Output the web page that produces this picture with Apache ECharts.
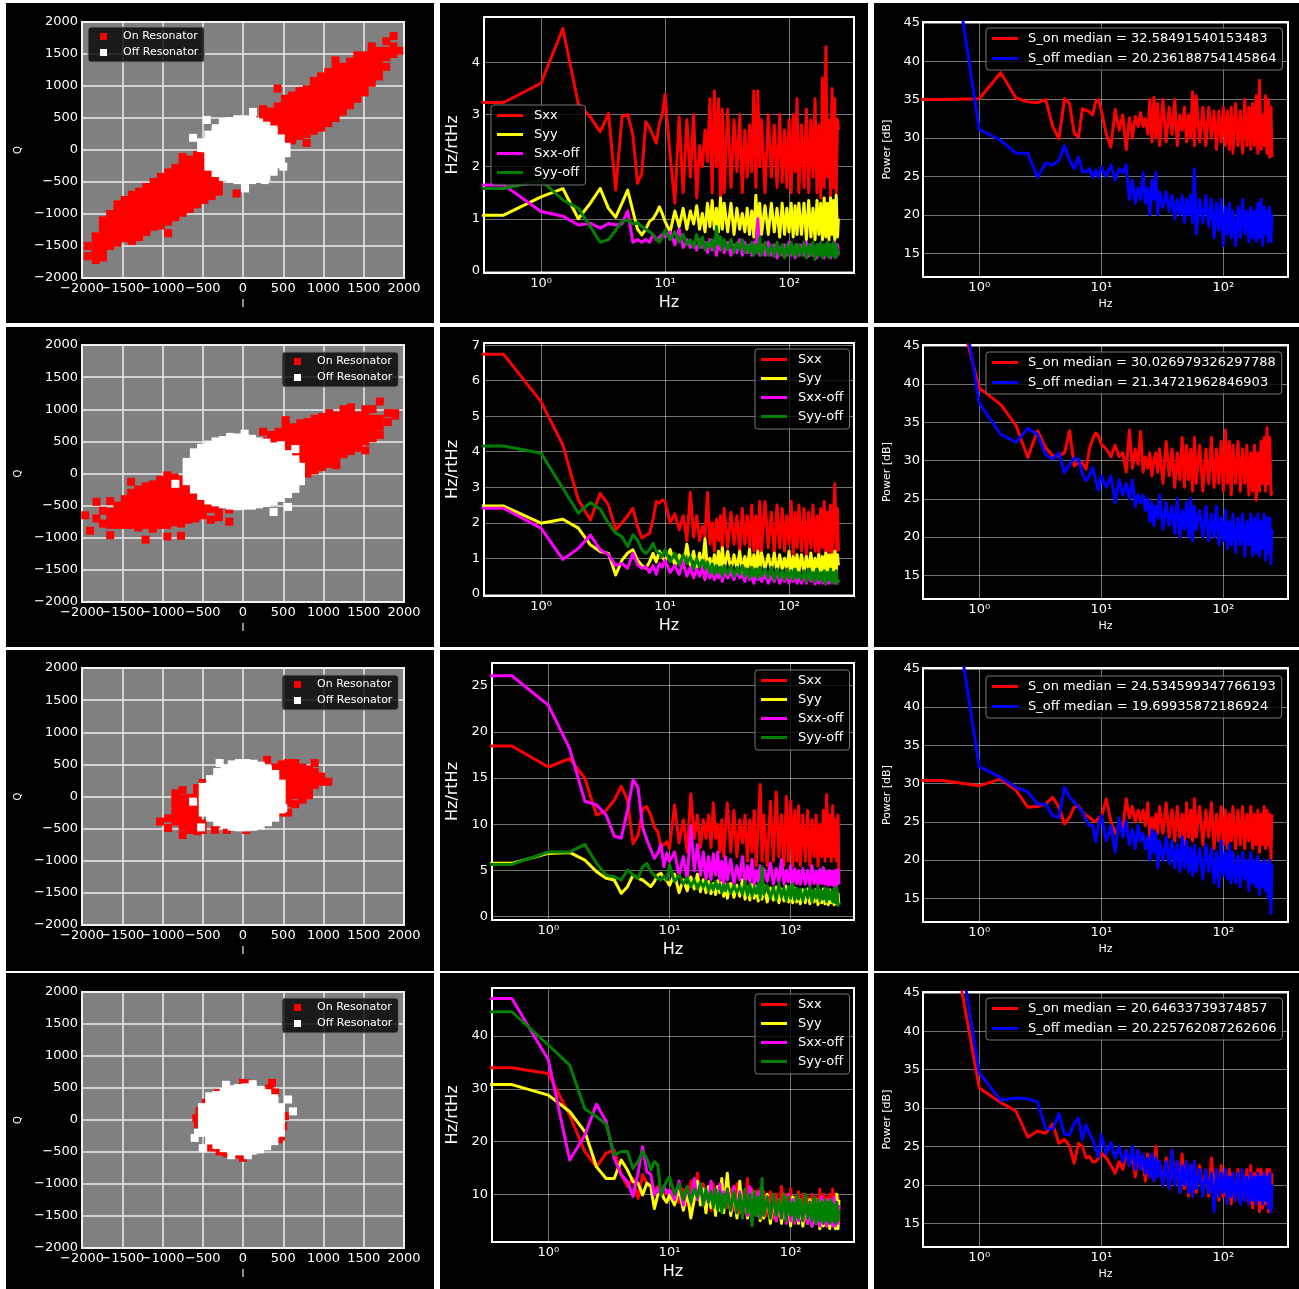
<!DOCTYPE html>
<html><head><meta charset="utf-8">
<script src="https://cdn.jsdelivr.net/npm/echarts@6/dist/echarts.min.js"></script>
<style>
html,body{margin:0;padding:0;background:#fff;}
body{width:1299px;height:1289px;position:relative;overflow:hidden;}
</style>
</head><body>
<script>
// ---------- frequency axis (Hz) shared by all spectra ----------
const F = [0.5,1,1.5,2,2.5,3,3.5,4,4.5,5,5.5,6,6.5,7,7.5,8,8.5,9,9.5,10,
 11,12,13,14,15,16,17,18,19,20,21,22,23,24,25,26,27,28,29,30,
 32,34,36,38,40,42,44,46,48,50,52,54,56,58,60,
 64,68,72,76,80,84,88,92,96,100,104,108,112,116,120,
 126,132,138,144,150,156,162,168,174,180,186,192,198,204,210,216,222,228,234,240,246,250];

// ---------- row 1 spectra ----------
const s1xx = [3.23,3.6,4.65,3.2,2.95,2.67,3.02,1.55,2.96,3.0,2.62,1.68,1.87,2.86,2.75,2.6,2.45,2.83,3.0,3.39,
 2.2,1.3,2.95,1.5,2.9,1.8,3.0,1.4,2.4,2.0,2.7,2.1,3.3,1.5,3.45,2.0,3.3,1.4,3.1,1.5,
 3.1,1.6,2.9,1.9,3.0,1.5,2.7,1.8,2.8,1.9,3.45,1.6,3.45,2.0,2.9,
 1.5,3.0,1.8,2.8,1.6,3.0,1.7,2.7,1.6,2.9,1.5,3.0,1.9,3.3,1.5,
 2.8,1.6,3.1,1.5,2.9,1.8,3.3,1.5,2.8,1.4,3.7,1.6,4.3,1.8,2.9,1.4,3.5,1.6,3.3,1.5,2.9,2.7];
const s1yy = [1.07,1.42,1.58,1.0,1.3,1.58,1.2,1.03,1.3,1.55,1.15,0.8,0.69,0.8,0.95,1.0,1.1,1.23,1.1,0.95,
 0.75,1.15,0.85,1.2,0.8,1.15,0.9,1.25,0.8,1.1,0.75,1.3,0.85,1.35,0.8,1.2,0.75,1.4,0.8,1.3,
 0.75,1.3,0.7,1.2,0.8,1.1,0.75,1.2,0.7,1.15,0.65,1.45,0.75,1.3,0.7,
 1.25,0.7,1.3,0.75,1.2,0.65,1.3,0.7,1.2,0.75,1.3,0.65,1.25,0.7,1.3,
 0.7,1.3,0.6,1.35,0.65,1.2,0.6,1.35,0.7,1.3,0.6,1.4,0.65,1.3,0.6,1.4,0.7,1.35,0.6,1.45,0.65,1.0];
const s1xo = [1.65,1.14,1.05,0.88,0.91,0.82,0.91,0.88,0.9,1.15,0.55,0.6,0.55,0.6,0.55,0.7,0.6,0.65,0.7,0.65,
 0.75,0.5,0.8,0.45,0.6,0.45,0.55,0.4,0.6,0.45,0.55,0.35,0.6,0.4,0.55,0.3,0.6,0.4,0.5,0.35,
 0.55,0.3,0.5,0.35,0.6,0.3,0.55,0.35,0.5,0.3,0.55,0.35,1.0,0.3,0.5,
 0.3,0.55,0.3,0.5,0.25,0.45,0.3,0.5,0.3,0.55,0.3,0.45,0.25,0.5,0.3,
 0.5,0.3,0.55,0.28,0.5,0.3,0.45,0.25,0.5,0.3,0.45,0.25,0.5,0.3,0.5,0.25,0.45,0.3,0.55,0.27,0.5,0.3];
const s1yo = [1.58,1.74,1.36,1.2,0.85,0.55,0.6,0.78,0.95,0.98,0.9,0.93,0.85,0.8,0.75,0.7,0.62,0.55,0.65,0.78,
 0.6,0.75,0.55,0.7,0.5,0.6,0.45,0.7,0.45,0.65,0.4,0.55,0.45,0.6,0.4,0.85,0.5,0.65,0.4,0.6,
 0.4,0.6,0.35,0.55,0.4,0.6,0.35,0.5,0.35,0.55,0.3,0.5,0.35,0.65,0.3,
 0.55,0.3,0.5,0.28,0.55,0.3,0.5,0.25,0.5,0.3,0.55,0.3,0.5,0.28,0.5,
 0.3,0.55,0.25,0.5,0.3,0.55,0.22,0.5,0.3,0.55,0.25,0.5,0.3,0.55,0.25,0.5,0.3,0.55,0.25,0.5,0.3,0.4];
const p1on = [35.0,35.1,38.5,35.2,34.7,34.6,35.0,31.5,29.9,35.1,34.5,30.6,30.1,33.8,33.6,33.4,33.0,34.7,35.0,33.6,
 30.5,28.8,33.7,31,33,28.5,32.6,30,32.8,31.5,33.3,31.5,32.5,30.5,35,29.5,35.3,30,34.5,29,
 35,29.5,34,30.5,35,29,33,31,34,29.5,33,30,36,29,35.5,
 29.5,34,29,34,30,33.5,28.5,33.5,29.5,34,29,33.5,28.5,34,28,
 34.5,29,33.5,28,35,29,34,28.5,34.5,29,35.5,28,37.5,28.5,33,29,35.5,28,35,27.5,34,27.5];
const p1off = [63,31.1,29.7,28.0,28.0,24.9,26.7,26.5,27.1,29.0,27.1,26.0,27.5,25.6,25.6,26.0,24.9,25.8,24.9,26.2,
 25.0,26.5,24.5,26,25.5,26.5,22.0,24.5,21.5,23.5,22.0,25.5,21.5,23.5,20.0,24.5,22,25.5,20,23,
 21,23,20.5,22.5,19.5,22,20,22.5,19,22,20,22.5,19,26,17.5,
 22,19,22.5,18.5,22,17,21.5,18,22,16,21,17.5,21.5,17,20.5,
 16,21,17,22,17.5,20.5,16.5,21,17,20.5,16.5,21.5,17,22,16,21,17.5,20.5,16.5,21,16.5,20];

// ---------- row 2 spectra ----------
const s2xx = [6.74,5.41,4.19,2.64,2.08,2.83,2.5,1.8,2.0,2.2,2.41,1.9,1.57,1.65,1.7,2.1,2.6,2.55,2.64,2.6,
 2.0,2.25,1.8,2.2,1.5,2.85,1.6,2.2,1.5,1.9,1.6,2.85,1.4,2.0,1.2,2.1,1.5,2.2,1.2,2.4,
 1.3,2.3,1.4,2.2,1.2,2.4,1.4,2.2,1.3,2.5,1.2,2.2,1.1,2.6,1.2,
 2.6,1.3,2.3,1.1,2.5,1.3,2.4,1.2,2.2,1.4,2.6,1.1,2.3,1.3,2.5,
 1.2,2.4,1.0,2.3,1.3,2.5,1.2,2.2,1.0,2.4,1.3,2.6,1.1,2.3,1.2,2.5,1.1,2.2,3.1,1.2,2.4,1.2];
const s2yy = [2.47,1.99,2.1,1.85,1.38,1.19,1.14,0.53,0.95,1.15,1.24,0.95,0.8,0.72,0.9,1.14,0.9,1.2,1.05,0.9,
 1.25,0.8,1.1,0.75,1.4,0.8,1.2,0.7,1.15,0.75,1.55,0.7,1.0,0.65,1.1,0.7,1.2,0.7,1.3,0.7,
 1.2,0.65,1.1,0.7,1.2,0.6,1.05,0.7,1.25,0.6,1.1,0.7,1.2,0.6,1.15,
 0.7,1.1,0.65,1.15,0.6,1.1,0.7,1.0,0.65,1.2,0.6,1.05,0.7,1.1,0.6,
 1.1,0.6,1.05,0.65,1.15,0.6,1.0,0.7,1.1,0.55,1.05,0.65,1.15,0.6,1.1,0.7,1.1,0.6,1.2,0.65,1.1,0.8];
const s2xo = [2.41,1.85,0.97,1.28,1.66,1.24,1.1,0.8,0.86,0.72,1.14,0.82,0.72,0.77,0.6,0.8,0.55,0.85,0.75,0.95,
 0.6,0.8,0.55,0.9,0.5,0.75,0.45,0.7,0.5,0.75,0.4,0.8,0.45,0.65,0.4,0.6,0.45,0.75,0.35,0.6,
 0.45,0.6,0.4,0.65,0.45,0.55,0.35,0.6,0.4,0.55,0.3,0.65,0.4,0.55,0.35,
 0.55,0.3,0.5,0.35,0.6,0.3,0.5,0.35,0.55,0.3,0.5,0.35,0.55,0.3,0.5,
 0.3,0.5,0.3,0.55,0.35,0.5,0.28,0.5,0.3,0.55,0.3,0.5,0.28,0.55,0.3,0.5,0.32,0.55,0.3,0.5,0.3,0.4];
const s2yo = [4.16,3.96,2.97,2.27,2.57,2.38,1.99,1.71,1.61,1.33,1.66,1.52,1.24,1.14,1.25,1.42,1.2,1.14,1.05,1.25,
 0.9,1.15,0.8,1.1,0.85,1.05,0.7,1.0,0.75,0.95,0.7,0.9,0.6,0.85,0.55,0.8,0.6,0.75,0.5,0.8,
 0.55,0.8,0.5,0.75,0.55,0.8,0.5,0.7,0.45,0.75,0.5,0.7,0.45,0.75,0.5,
 0.7,0.45,0.75,0.4,0.7,0.45,0.65,0.4,0.7,0.45,0.65,0.4,0.7,0.45,0.6,
 0.4,0.65,0.35,0.7,0.4,0.6,0.35,0.7,0.4,0.6,0.35,0.65,0.3,0.6,0.4,0.7,0.3,0.6,0.35,0.65,0.3,0.4];
const p2on = [58,39.5,37.3,34.6,30.4,33.9,31.7,30.6,30.6,31.0,33.9,29.3,29.7,29.7,28.9,31.5,32.8,33.6,33.2,32.1,
 31.5,30.5,32,30.5,31,28.5,34,29,31.5,29.5,33.8,28.5,30.5,29,31,28,30,31,28.5,31.5,
 27,32.5,28,31.5,26.5,31,27.5,33,26.5,32,27.5,31.5,26,33,27,
 32,26,31.5,27,33,26.5,31.5,27,32.5,26,34,27,32.5,25.5,32,
 27,32.5,26,31.5,27,32,25.5,31,26,32,24.8,31,26,32.5,27,33,26,34.3,27,33,25.5,26];
const p2off = [67,37.5,33.4,32.4,34.2,33.4,30.8,30.2,31.0,28.4,29.5,30.3,30.2,28.2,27.4,28.0,29.1,27.4,26.1,28.0,
 26.5,28,24.5,27.5,25.5,27,25,27.5,24,25.5,24.5,25.5,23.5,25,22,24.5,21.5,24,22.5,25.5,
 21,24.5,21.5,24,20.5,25,20,23.5,21,24.5,20,25,19.5,24,21,
 23.5,20,24,19.5,23,20,24,19,22.5,19.5,23.5,18.5,22,19,23,
 18,22.5,19,23,17.5,22,19,23,17.5,22.5,18,23,17.5,22,18.5,23,17,22.5,18,22.5,16.5,21];

// ---------- row 3 spectra ----------
const s3xx = [18.47,16.2,17.1,15.0,11.0,11.5,12.6,14.1,12.6,7.9,8.8,11.7,11.9,11.0,9.7,9.2,7.6,7.8,8.1,7.4,
 12.1,8.0,10.5,7.0,13.3,8.5,11.0,7.5,10.5,8.5,11.0,7.5,12.3,8.5,10.0,7.0,10.5,6.5,9.5,12.3,
 7,11.5,6.5,10.5,8,11,6,10.5,7,11.5,5.5,10,14.3,6,11,
 5.5,12.5,6,13.5,6.5,11,5.5,13,6,12.5,5.5,11.5,6,12,5.5,
 11,6,11.5,5.5,10.5,6.5,11,5.5,10,6.5,11.5,6,13.2,6.5,11,6,12,6.5,10.5,6,11,4];
const s3yy = [5.77,6.85,6.96,6.13,4.87,4.15,3.97,2.53,3.25,4.5,4.15,3.97,3.6,3.25,3.8,4.5,4.7,4.2,3.9,3.4,
 4.6,2.6,4.0,2.8,4.3,3.0,4.6,2.7,4.0,2.6,3.8,2.5,3.6,2.4,3.9,2.6,3.7,2.2,3.5,2.0,
 3.6,2.1,3.4,2.2,4.0,1.9,3.2,1.8,3.5,2.0,3.3,1.7,3.0,1.9,3.4,
 1.6,3.1,1.8,3.2,1.5,3.0,1.7,3.3,1.6,2.9,1.5,3.1,1.6,2.8,1.4,
 2.9,1.5,3.0,1.4,2.7,1.6,2.9,1.3,2.8,1.5,3.0,1.4,2.7,1.3,2.9,1.5,2.6,1.3,2.8,1.4,2.5,1.3];
const s3xo = [26.08,22.9,18.2,12.5,12.1,11.0,8.7,8.5,11.5,14.8,14.0,9.7,8.3,7.3,6.3,6.9,7.8,5.4,6.9,6.0,
 7.0,4.5,6.5,4.0,9.8,5.0,7.8,4.5,7.0,4.0,6.5,4.0,6.8,4.5,7.0,4.0,6.0,3.5,6.5,4.0,
 6.2,3.5,5.5,4.0,6.5,3.5,5.5,3.8,6.2,3.5,5.0,3.8,5.5,3.5,5.2,
 3.8,5.8,3.5,5.2,3.8,6.2,3.5,5.0,3.8,5.5,3.5,5.2,3.6,5.0,3.5,
 5.2,3.5,5.0,3.4,5.5,3.6,4.9,3.4,5.1,3.6,5.3,3.5,4.8,3.4,5.0,3.5,4.9,3.3,5.0,3.4,5.1,3.5];
const s3yo = [5.66,7.0,7.0,7.83,5.77,4.5,4.33,3.97,5.05,4.5,4.15,5.4,5.77,4.87,4.5,4.15,3.97,4.4,4.0,5.6,
 3.8,4.5,3.5,4.2,3.3,4.0,3.0,3.8,3.2,3.9,2.8,3.6,2.9,3.8,3.0,3.5,2.6,3.4,2.8,3.6,
 2.5,3.4,2.6,3.3,2.4,3.8,2.3,3.5,2.2,3.2,2.5,3.6,2.0,5.4,2.4,
 3.4,2.0,3.2,1.8,3.6,2.1,3.1,1.7,3.3,2.0,3.5,1.8,3.1,1.9,3.0,
 1.7,3.0,2.0,3.2,1.6,2.9,2.0,3.3,1.7,2.8,1.9,3.1,1.6,3.0,1.9,2.7,1.6,3.0,1.5,3.2,1.2,1.5];
const p3on = [30.4,29.7,30.6,29.1,26.9,27.0,27.3,28.2,26.9,24.7,25.6,26.9,27.1,26.3,25.8,25.6,25.2,25.0,25.5,25.6,
 28.0,25.0,23.5,24.5,24.0,28.0,25.5,27.0,25.0,26.5,25.0,26.5,24.5,27.5,23.0,25.5,24.0,26.0,23.5,27.0,
 23.5,27.5,23,26.5,22.5,27,23,26,22,27.5,23,26.5,22.5,28,23,
 27,22,26.5,23,27.5,21.5,26,22.5,27,22,26.5,21.5,26,22.5,27,
 21.5,26.5,22,27,21.5,26,22.5,27,21.5,26,22,26.5,21,26,22,27,21.5,26.5,22,26,20,26];
const p3off = [63.4,32.2,30.8,29.5,28.9,27.3,27.3,25.8,25.6,29.5,28.2,27.6,26.9,26.3,25.2,24.5,24.5,22.4,24.5,25.8,
 22.5,24.5,21.0,25.5,23,25,22,24,21.5,24.5,22.5,23.5,21.5,23,20,24,21,23.5,19,22.5,
 20,23,19.5,22.5,19,22,18.5,23,19,22.5,18.5,21.5,18,22,18.5,
 21.5,17.5,22,18.5,21.5,17,21,16.5,22.5,18,21,17.5,22,17,21,
 17,20.5,16.5,21,17.5,20,16,21,17,20,16.5,20.5,15.5,19.5,16.5,20,16,19.5,15,20,13,19.5];

// ---------- row 4 spectra ----------
const s4xx = [34.0,32.9,25.0,18.1,15.2,17.8,18.4,13.7,11.5,13.0,9.2,13.7,12.1,11.8,10.5,11.5,10.5,9.9,10.3,10.8,
 10.0,8.5,11.0,8.0,12.5,9.0,14.0,8.5,12.0,7.5,10.5,7.0,12.0,8.0,11.5,7.5,12.5,7.0,11.0,7.5,
 11,7,12,6.5,10.5,7.5,13,6,11,6.5,10.5,6,11,5.5,10.5,
 6,10.5,5.5,10,6,11.5,5.5,10,5,11,6,9.5,5,10.5,5.5,
 10,5,9.5,5.5,10,5,9.5,4.5,11,5,10,4.5,9.5,5,10,4.5,11,5,10,4.5,9.5,5];
const s4yy = [30.8,28.8,25.7,21.9,15.2,13.0,13.0,16.5,14.6,12.4,12.1,9.9,12.1,11.5,7.3,9.9,10.5,9.2,8.5,9.9,
 8.0,11.0,7.0,10.5,5.5,9.0,12.5,8.0,11.0,6.5,11.5,7.5,10.0,6.0,11.5,7.0,13.0,6.5,10.5,14.0,
 6,11,5.5,12.5,6,10,5.5,11,5,10.5,6,9.5,5,10,5.5,
 10,4.5,9.5,5,9,4.5,10,5,9,4,9.5,5,8.5,4.5,9,
 4,8.5,4.5,9,4,8,4.5,9,3.5,8,4,9,4,8.5,3.5,9,4,8,3.5,10,3.5,9];
const s4xo = [47.1,35.5,16.5,21.2,27.1,23.8,16.8,13.7,12.4,9.6,14.0,19.0,14.3,13.8,9.9,11.1,10.0,11.5,10.3,10.8,
 9.0,12.5,8.0,11.5,8.5,13.0,9.0,12.0,8.0,10.5,8.5,12.5,8.0,11.0,7.5,12.0,8.0,10.5,7.5,11.0,
 7,11.5,6.5,10.5,7,10,6,11.5,6.5,10,6,10.5,5.5,9.5,6,
 9.5,5.5,10,5,9,5.5,9.5,4.5,10,5,9,4.5,9.5,5,8.5,
 5,9,4.5,8.5,4,9,4.5,8.5,4,9.5,4.5,8.5,4,9,4.5,8,4,9.5,4,8.5,4.5,8];
const s4yo = [44.6,38.3,34.5,26.2,24.7,23.3,17.5,18.1,18.1,14.9,16.2,18.1,16.8,14.6,16.2,15.6,9.9,11.5,12.5,13.3,
 10.0,12.0,9.0,11.5,8.5,11.0,9.5,12.0,8.0,11.0,8.5,10.5,7.5,11.0,7.0,10.5,6.5,10.0,7.5,11.0,
 7,10.5,6.5,10,5.5,11,6.5,10,4,10.5,6,9.5,5.5,13,6,
 9.5,5.5,10,6,9,5.5,10,5,9.5,6,8.5,5,10,5.5,9,
 5,10,5.5,8.5,5,9.5,4.5,9,5,8.5,4.5,9,5,8.5,4.5,9,5,8,4.5,8.5,5,7];
const p4on = [59.3,32.6,30.7,29.6,26.2,27.0,26.7,27.9,25.4,25.9,25.0,22.8,25.4,25.0,23.5,23.7,23.0,23.0,23.5,24.1,
 23.5,22.5,21.5,23.0,22.0,24.5,22.5,24.0,21.0,24.5,22.0,23.0,20.5,24.0,21.0,23.5,20.5,25.0,21.5,23.0,
 20,23.5,19.5,24.5,20,23,19,24,19.5,23,18.5,22.5,19.5,23,19,
 22.5,19,22,18.5,23.5,19,22,18,22.5,18.5,21.5,18,22,17.5,21.5,
 18,22,17.5,21.5,18,22,17.5,22.5,17,21.5,18,22,16.5,22,17,21.5,17.5,22,16.5,22,17,21.5];
const p4off = [64.7,34.6,31.0,31.3,31.2,30.8,27.4,27.2,29.3,26.5,26.5,28.0,28.7,25.9,27.8,26.7,25.9,24.6,23.7,26.5,
 24.0,25.5,23.5,25.0,23.0,24.5,22.5,25.0,22.0,24.5,22.0,24.0,21.5,23.5,21.0,24.0,20.5,23.5,21.0,23.0,
 20,23,19.5,24.5,20,23,19,22.5,20,23,19,22.5,18.5,23,19.5,
 22,18.5,22,19,21.5,16.5,22,18.5,21.5,19,22,17.5,21,18.5,21.5,
 18,21.5,17.5,22,18,21,17.5,21.5,18,21,17.5,21.5,18,21,17.5,21.5,18,21,17,21.5,16.5,20];

const medians = [
 ['32.58491540153483','20.236188754145864'],
 ['30.026979326297788','21.34721962846903'],
 ['24.534599347766193','19.69935872186924'],
 ['20.64633739374857','20.225762087262606']
];

// ---------- IQ scatter clouds: each entry is [I, Q, Q, ...] ----------
const on1 = [
 [250,480,580,640],[340,200,300,400,500,600],[430,80,180,280,380,480,580,680,960],
 [520,100,200,300,400,500,600,700,800],[610,150,250,350,450,550,650,750,850],
 [700,220,320,420,520,620,720,820,920],[790,110,250,350,450,550,650,750,850,950],
 [880,300,400,500,600,700,800,900,1000,1080],[970,350,450,550,650,750,850,950,1050,1150],
 [1060,420,520,620,720,820,920,1020,1120,1220],[1150,500,600,700,800,900,1000,1100,1200,1280,1400],
 [1240,600,700,800,900,1000,1100,1200,1300],[1330,700,800,900,1000,1100,1200,1300,1380],
 [1420,800,900,1000,1100,1200,1300,1400,1480],[1510,900,1000,1100,1200,1300,1400,1480],
 [1600,1050,1150,1250,1350,1450,1550,1620],[1690,1150,1250,1350,1450,1550],
 [1780,1300,1450,1550,1700],[1870,1500,1620,1780],[1940,1550],
 [-300,-450,-550,-650],[-390,-150,-250,-350,-450,-550,-650,-720],
 [-480,-100,-200,-300,-400,-500,-600,-700,-780],[-570,-80,-180,-280,-380,-480,-580,-680,-780,-850],
 [-660,-150,-250,-350,-450,-550,-650,-750,-850,-920],[-750,-110,-200,-300,-400,-500,-600,-700,-800,-900,-980],
 [-840,-280,-380,-480,-580,-680,-780,-880,-980,-1050],[-930,-350,-450,-550,-650,-750,-850,-950,-1050,-1120,-1300],
 [-1020,-420,-520,-620,-720,-820,-920,-1020,-1120,-1180],[-1110,-500,-600,-700,-800,-900,-1000,-1100,-1200],
 [-1200,-580,-680,-780,-880,-980,-1080,-1180,-1280],[-1290,-650,-750,-850,-950,-1050,-1150,-1250,-1360],
 [-1380,-700,-800,-900,-1000,-1100,-1200,-1300,-1420],[-1470,-780,-880,-980,-1080,-1180,-1280,-1380],
 [-1560,-850,-950,-1050,-1150,-1250,-1350,-1450],[-1650,-1000,-1100,-1200,-1300,-1400,-1500],
 [-1740,-1100,-1200,-1300,-1400,-1500,-1600,-1680],[-1830,-1350,-1450,-1530,-1620,-1720],
 [-1930,-1500,-1660],[-80,-680]
];
const off1 = [
 [-520,30,120],[-430,-260,-160,-60,40,140,240],[-340,-360,-260,-160,-60,40,140,240,340],
 [-250,-420,-320,-220,-120,-20,80,180,280,380,440],[-160,-450,-350,-250,-150,-50,50,150,250,350,450],
 [-70,-470,-370,-270,-170,-70,30,130,230,330,430,480],[20,-480,-380,-280,-180,-80,20,120,220,320,420,480],
 [110,-470,-370,-270,-170,-70,30,130,230,330,430,470],[200,-450,-350,-250,-150,-50,50,150,250,350,430],
 [290,-420,-320,-220,-120,-20,80,180,280,380],[380,-340,-240,-140,-40,60,160,260,320],
 [470,-220,-120,-20,80,180],[540,-50,50],
 [-620,190],[-450,470],[125,595],[25,-600],[500,-260],[270,-470]
];
const on2 = [
 [-1960,-650],[-1900,-890],[-1820,-440,-700],[-1740,-580,-780],[-1650,-430,-600,-700,-800,-960],
 [-1560,-500,-600,-700,-800],[-1470,-400,-500,-600,-700,-800],[-1390,-130,-300,-400,-500,-600,-700,-800],
 [-1300,-250,-350,-450,-550,-650,-750,-840],[-1210,-200,-300,-400,-500,-600,-700,-800,-1030],
 [-1120,-170,-270,-370,-470,-570,-670,-770,-860],[-1030,-100,-200,-300,-400,-500,-600,-700,-800],
 [-940,-30,-130,-230,-330,-430,-530,-630,-730,-800,-980],[-850,-60,-160,-260,-360,-460,-560,-660,-760],
 [-770,-100,-200,-300,-400,-500,-600,-700,-780,-970],[-680,-150,-250,-350,-450,-550,-650,-720],
 [-590,-200,-300,-400,-500,-600,-700],[-500,-300,-400,-500,-600,-650],[-400,-450,-550,-720],
 [-300,-500,-600,-680],[-170,-560,-750],
 [250,500,650],[350,300,400,500,600],[440,250,350,450,550,650],
 [530,150,250,350,450,550,650,750,830,-300],[620,50,150,250,350,450,550,650,720,-200],
 [710,0,100,200,300,400,500,600,700,780],[800,0,100,200,300,400,500,600,700,800],
 [890,50,150,250,350,450,550,650,750,850],[980,100,200,300,400,500,600,700,800,880],
 [1070,150,250,350,450,550,650,750,850,940],[1160,130,250,350,450,550,650,750,850,900],
 [1250,300,400,500,600,700,800,900,1000],[1340,350,450,550,650,750,850,950,1030],
 [1430,400,500,600,700,800,900],[1520,360,500,600,700,800,900,1000],[1610,550,650,750,850,1000],
 [1700,600,730,850,1120],[1800,800,940],[1890,900,940]
];
const off2 = [
 [-700,-120,-20,80,180],[-610,-250,-150,-50,50,150,250,330],[-520,-350,-250,-150,-50,50,150,250,350,400],
 [-430,-420,-320,-220,-120,-20,80,180,280,380,450],[-340,-450,-350,-250,-150,-50,50,150,250,350,450,500],
 [-250,-480,-380,-280,-180,-80,20,120,220,320,420,520],[-160,-500,-400,-300,-200,-100,0,100,200,300,400,500,570],
 [-70,-510,-410,-310,-210,-110,-10,90,190,290,390,490,560],[20,-500,-400,-300,-200,-100,0,100,200,300,400,500,560,620],
 [110,-500,-400,-300,-200,-100,0,100,200,300,400,500,540],[200,-480,-380,-280,-180,-80,20,120,220,320,420,500],
 [290,-460,-360,-260,-160,-60,40,140,240,340,440,480],[380,-430,-330,-230,-130,-30,70,170,270,370,420,-600],
 [470,-380,-280,-180,-80,20,120,220,320,360,440],[560,-320,-220,-120,-20,80,180,280,300,-520],
 [650,-240,-140,-40,60,160,220,380],[720,-120,-20,80,104],[-840,-160]
];
const on3 = [
 [-1030,-390],[-930,-340,-490],[-840,50,-60,-170,-280,-390],[-750,100,-30,-140,-250,-360,-470,-600],
 [-660,-20,-120,-220,-320,-420,-520],[-570,130,30,-70,-170,-270,-370,-470,-540],[-500,210,-420,-520],
 [-350,-520],[-200,-520],[40,-520],[300,570],[400,450,-300],[480,400,500,300,-250],
 [560,520,420,320,220,120,20,-100,-250],[650,520,420,320,220,120,20,-120],[740,450,350,250,150,50,-50],
 [820,420,320,220,120,20],[890,520,380,280,180],[970,310,230],[1060,230]
];
const off3 = [
 [-500,-250,-150,-50,50,150],[-410,-330,-230,-130,-30,70,170,270],[-320,-400,-300,-200,-100,0,100,200,300,380],
 [-230,-440,-340,-240,-140,-40,60,160,260,360,440],[-140,-470,-370,-270,-170,-70,30,130,230,330,430,500],
 [-50,-480,-380,-280,-180,-80,20,120,220,320,420,520],[40,-480,-380,-280,-180,-80,20,120,220,320,420,520],
 [130,-470,-370,-270,-170,-70,30,130,230,330,430,510],[220,-450,-350,-250,-150,-50,50,150,250,350,450,480],
 [310,-400,-300,-200,-100,0,100,200,300,400,420],[400,-330,-230,-130,-30,70,170,270,350],
 [480,-200,-100,0,100,200],[-290,520],[-620,-80],[-520,-480],[500,-180]
];
const on4 = [
 [-580,30],[-560,-60],[-540,140],[-460,270],[-420,330],[-390,-430],[-310,420],[-290,-490],
 [-200,480,-520,0],[-100,-540,200],[0,580,-590,0],[40,570],[100,-200],[200,100],[330,500],
 [360,580],[400,430],[440,-300],[470,-260],[500,-100],[520,60]
];
const off4 = [
 [-510,-200,-100,0,100,200],[-420,-320,-220,-120,-20,80,180,280,370],[-330,-390,-290,-190,-90,10,110,210,310,390],
 [-240,-440,-340,-240,-140,-40,60,160,260,360,440],[-150,-470,-370,-270,-170,-70,30,130,230,330,430,480],
 [-60,-490,-390,-290,-190,-90,10,110,210,310,410,500],[30,-490,-390,-290,-190,-90,10,110,210,310,410,510],
 [120,-480,-380,-280,-180,-80,20,120,220,320,420,500,560],[210,-460,-360,-260,-160,-60,40,140,240,340,440,470],
 [300,-410,-310,-210,-110,-10,90,190,290,390,420],[390,-330,-230,-130,-30,70,170,270,340],
 [470,-200,-100,0,100,200],[-600,-280],[-560,-200],[-500,-440],[-145,-550],[60,-550],[560,320],[620,135],[-210,550]
];

// ================= layout & drawing =================
const FONT = 'DejaVu Sans';
const colX = [6, 440, 874], colW = [428, 428, 425];
const rowY = [3, 327, 650, 973], rowH = [320, 320, 321, 316];

function mk(c, r) {
  const d = document.createElement('div');
  d.style.cssText = `position:absolute;left:${colX[c]}px;top:${rowY[r]}px;width:${colW[c]}px;height:${rowH[r]}px;background:#000`;
  document.body.appendChild(d);
  return echarts.init(d, null, {renderer: 'canvas', width: colW[c], height: rowH[r]});
}
const pts = cols => { const a = []; cols.forEach(c => { for (let k = 1; k < c.length; k++) a.push([c[0], c[k]]); }); return a; };
const minus = v => String(v).replace('-', '\u2212');
// x labels of the IQ panels are split over two coincident axes so the touching labels are all kept
const evenK = v => (Math.abs(v) % 1000 === 0 ? minus(v) : '');
const oddK = v => (Math.abs(v) % 1000 === 500 ? minus(v) : '');
const SUP = {'0': '\u2070', '1': '\u00b9', '2': '\u00b2', '3': '\u00b3'};
const logFmt = v => { const e = Math.log10(v); const r = Math.round(e); return Math.abs(e - r) < 1e-6 ? '10' + (SUP[String(r)] || '') : ''; };
const stepFmt = s => v => { const r = Math.round(v / s) * s; return Math.abs(v - r) < 1e-6 ? String(Math.round(r)) : ''; };
const line = (v, name, color) => ({
  type: 'line', name, data: [[0.3, v[0]]].concat(F.map((f, i) => [f, v[i]])),
  showSymbol: false, symbol: 'none', clip: true, silent: true,
  lineStyle: {color, width: 3, join: 'round'}, itemStyle: {color}
});
const gridBase = {show: true, borderColor: '#fff', borderWidth: 2, outerBoundsMode: 'none', containLabel: false};
const darkSplit = {show: true, lineStyle: {color: 'rgba(255,255,255,0.45)', width: 1}};

// ---- column 1: IQ scatter ----
const scat = [[on1, off1], [on2, off2], [on3, off3], [on4, off4]];
const scTop = [19, 18, 18, 19], scH = [256, 257, 257, 256];
const scLeg = [[82, 24], [276, 25], [276, 25], [276, 25]];
scat.forEach((s, r) => {
  const ch = mk(0, r);
  const lab = {color: '#fff', fontSize: 13, fontFamily: FONT, hideOverlap: false, showMinLabel: true, showMaxLabel: true, margin: 4};
  const xBase = {type: 'value', min: -2000, max: 2000, interval: 500, axisLine: {show: false}, axisTick: {show: false}, position: 'bottom', offset: 0};
  ch.setOption({
    animation: false,
    grid: Object.assign({}, gridBase, {left: 76, top: scTop[r], width: 322, height: scH[r], backgroundColor: '#808080'}),
    xAxis: [
      Object.assign({}, xBase, {splitLine: {lineStyle: {color: '#ececec', width: 1.5}}, axisLabel: Object.assign({formatter: evenK}, lab),
        name: 'I', nameLocation: 'middle', nameGap: 18, nameTextStyle: {color: '#fff', fontSize: 10, fontFamily: FONT}}),
      Object.assign({}, xBase, {splitLine: {show: false}, axisLabel: Object.assign({formatter: oddK}, lab)})
    ],
    yAxis: {type: 'value', min: -2000, max: 2000, interval: 500, axisLine: {show: false}, axisTick: {show: false},
      splitLine: {lineStyle: {color: '#ececec', width: 1.5}}, axisLabel: Object.assign({formatter: minus}, lab),
      name: 'Q', nameLocation: 'middle', nameRotate: 90, nameGap: 52, nameTextStyle: {color: '#fff', fontSize: 10, fontFamily: FONT}},
    legend: {orient: 'vertical', left: scLeg[r][0], top: scLeg[r][1], icon: 'rect', itemWidth: 7, itemHeight: 7, itemGap: 3,
      padding: [3, 6, 3, 12], backgroundColor: 'rgba(0,0,0,0.8)', borderColor: '#777', borderWidth: 1, borderRadius: 3,
      textStyle: {color: '#fff', fontSize: 11, fontFamily: FONT, lineHeight: 13, padding: [0, 0, 0, 11]},
      data: ['On Resonator', 'Off Resonator']},
    series: [
      {type: 'scatter', name: 'On Resonator', xAxisIndex: 0, data: pts(s[0]), symbol: 'rect', symbolSize: 8, itemStyle: {color: '#ff0000', opacity: 1}, silent: true},
      {type: 'scatter', name: 'Off Resonator', xAxisIndex: 0, data: pts(s[1]), symbol: 'rect', symbolSize: 8, itemStyle: {color: '#ffffff', opacity: 1}, silent: true}
    ]
  });
});

// ---- column 2: Sxx / Syy spectra ----
const spec = [[s1xx, s1yy, s1xo, s1yo], [s2xx, s2yy, s2xo, s2yo], [s3xx, s3yy, s3xo, s3yo], [s4xx, s4yy, s4xo, s4yo]];
const c2g = [[44, 14, 370, 256], [44, 16, 370, 253], [52, 13, 362, 257], [52, 15, 362, 254]];
const c2y = [[-0.04, 4.87, 1], [-0.06, 7.06, 1], [-0.36, 27.46, 5], [0.97, 49.1, 10]];
const c2x = [[0.347, 334], [0.347, 334], [0.343, 333], [0.343, 333]];
const c2leg = [[51, 102], [315, 22], [315, 20], [315, 21]];
const c2yGap = [15, 15, 23, 23];
spec.forEach((s, r) => {
  const ch = mk(1, r);
  const g = c2g[r];
  ch.setOption({
    animation: false,
    grid: Object.assign({}, gridBase, {left: g[0], top: g[1], width: g[2], height: g[3], backgroundColor: '#000'}),
    xAxis: {type: 'log', logBase: 10, min: c2x[r][0], max: c2x[r][1], axisLine: {show: false}, axisTick: {show: false},
      minorTick: {show: false}, splitLine: darkSplit,
      axisLabel: {color: '#fff', fontSize: 13, fontFamily: FONT, margin: 4, formatter: logFmt, hideOverlap: false},
      name: 'Hz', nameLocation: 'middle', nameGap: 18, nameTextStyle: {color: '#fff', fontSize: 16, fontFamily: FONT}},
    yAxis: {type: 'value', min: c2y[r][0], max: c2y[r][1], splitNumber: 5, axisLine: {show: false}, axisTick: {show: false},
      splitLine: darkSplit,
      axisLabel: {color: '#fff', fontSize: 13, fontFamily: FONT, margin: 4, formatter: stepFmt(c2y[r][2]), hideOverlap: false},
      name: 'Hz/rtHz', nameLocation: 'middle', nameRotate: 90, nameGap: c2yGap[r], nameTextStyle: {color: '#fff', fontSize: 16, fontFamily: FONT}},
    legend: {orient: 'vertical', left: c2leg[r][0], top: c2leg[r][1], icon: 'rect', itemWidth: 26, itemHeight: 3, itemGap: 4,
      padding: [3, 6, 5, 6], backgroundColor: 'rgba(0,0,0,0.8)', borderColor: '#777', borderWidth: 1, borderRadius: 3,
      textStyle: {color: '#fff', fontSize: 13, fontFamily: FONT, lineHeight: 15, padding: [0, 0, 0, 6]},
      data: ['Sxx', 'Syy', 'Sxx-off', 'Syy-off']},
    series: [line(s[0], 'Sxx', '#ff0000'), line(s[1], 'Syy', '#ffff00'), line(s[2], 'Sxx-off', '#ff00ff'), line(s[3], 'Syy-off', '#008000')]
  });
});

// ---- column 3: power spectra in dB ----
const pw = [[p1on, p1off], [p2on, p2off], [p3on, p3off], [p4on, p4off]];
const c3top = [19, 18, 18, 19], c3h = [255, 254, 254, 255], c3legTop = [25, 25, 26, 25];
pw.forEach((s, r) => {
  const ch = mk(2, r);
  const nOn = 'S_on median = ' + medians[r][0], nOff = 'S_off median = ' + medians[r][1];
  ch.setOption({
    animation: false,
    grid: Object.assign({}, gridBase, {left: 49, top: c3top[r], width: 365, height: c3h[r], backgroundColor: '#000'}),
    xAxis: {type: 'log', logBase: 10, min: 0.346, max: 339, axisLine: {show: false}, axisTick: {show: false},
      minorTick: {show: false}, splitLine: darkSplit,
      axisLabel: {color: '#fff', fontSize: 13, fontFamily: FONT, margin: 4, formatter: logFmt, hideOverlap: false},
      name: 'Hz', nameLocation: 'middle', nameGap: 18, nameTextStyle: {color: '#fff', fontSize: 11, fontFamily: FONT}},
    yAxis: {type: 'value', min: 11.9, max: 45.1, splitNumber: 5, axisLine: {show: false}, axisTick: {show: false},
      splitLine: darkSplit,
      axisLabel: {color: '#fff', fontSize: 13, fontFamily: FONT, margin: 3, formatter: stepFmt(5), hideOverlap: false},
      name: 'Power [dB]', nameLocation: 'middle', nameRotate: 90, nameGap: 23, nameTextStyle: {color: '#fff', fontSize: 11, fontFamily: FONT}},
    legend: {orient: 'vertical', left: 112, top: c3legTop[r], icon: 'rect', itemWidth: 26, itemHeight: 3, itemGap: 5,
      padding: [3, 6, 4, 6], backgroundColor: 'rgba(0,0,0,0.8)', borderColor: '#777', borderWidth: 1, borderRadius: 3,
      textStyle: {color: '#fff', fontSize: 13, fontFamily: FONT, lineHeight: 15, padding: [0, 0, 0, 5]},
      data: [nOn, nOff]},
    series: [line(s[0], nOn, '#ff0000'), line(s[1], nOff, '#0000ff')]
  });
});
</script>
</body></html>
